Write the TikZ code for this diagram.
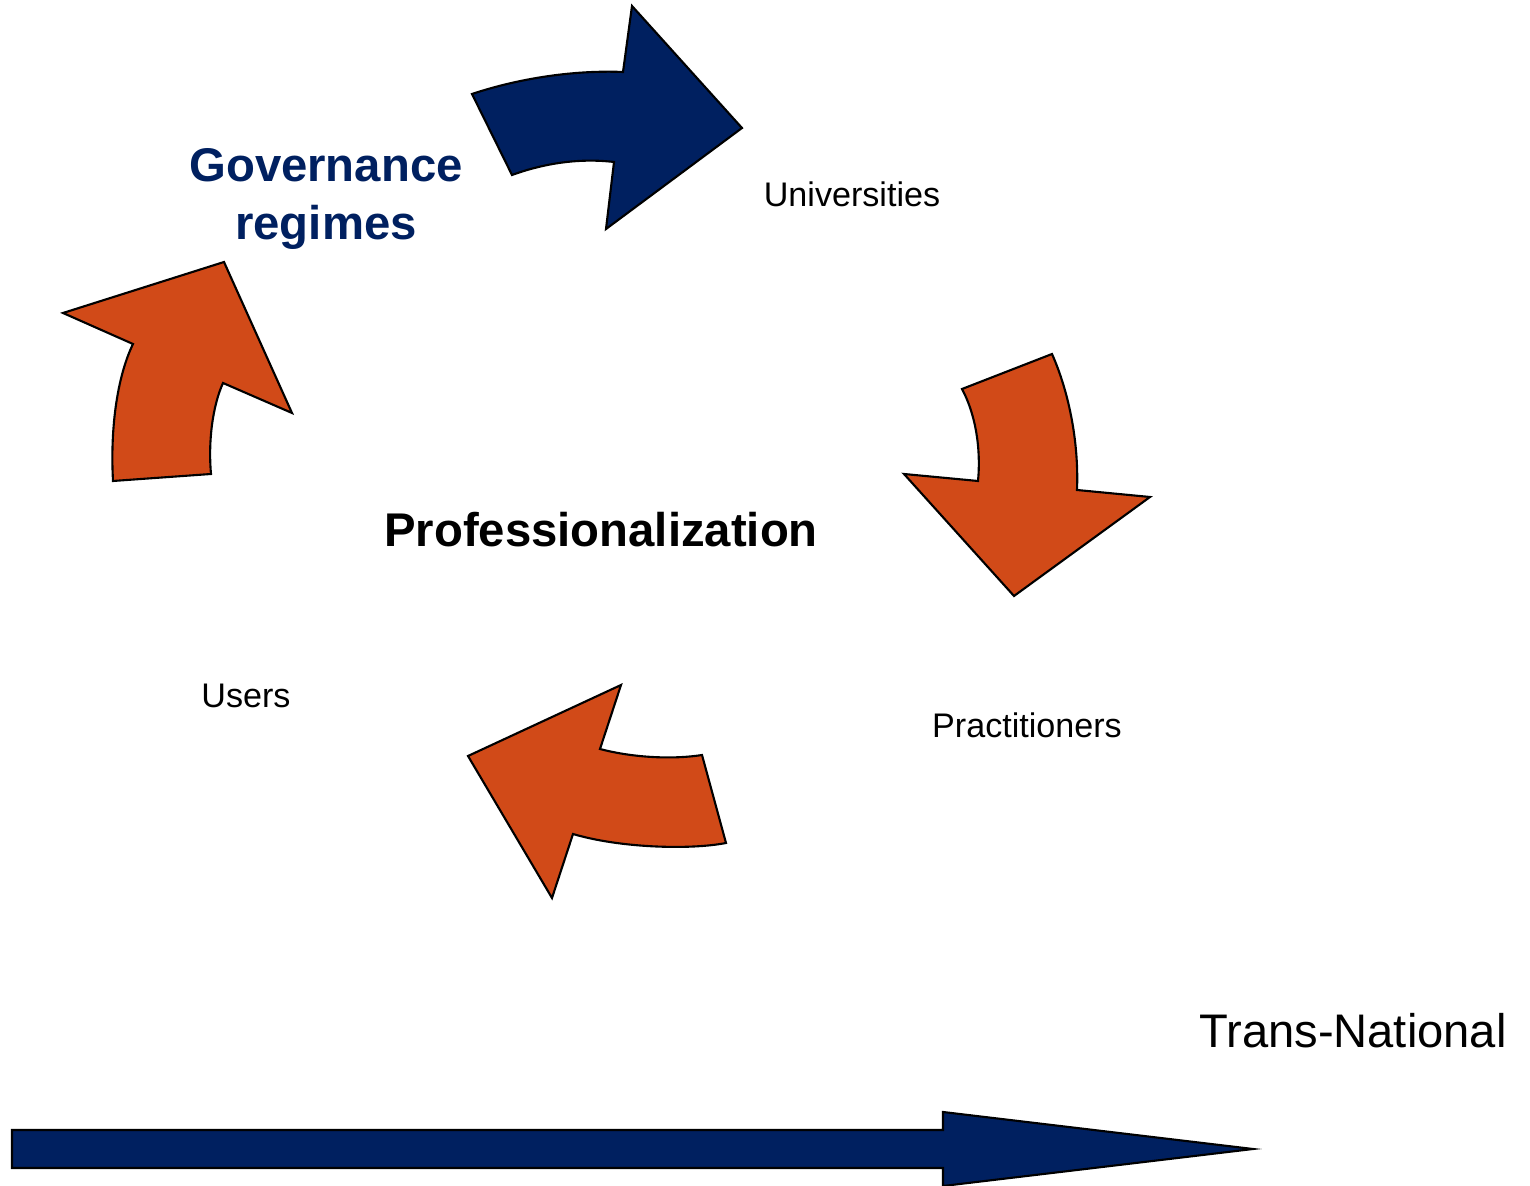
\documentclass[tikz,border=0pt]{standalone}
\usepackage{fontspec}
\setmainfont{Liberation Sans}
\usepackage{xcolor}
\usepackage{tikz}
\usetikzlibrary{positioning}
\definecolor{darkblue}{RGB}{0,32,96}
\definecolor{rust}{RGB}{209,74,24}

\begin{document}
\begin{tikzpicture}[x=0.01cm,y=-0.01cm,semithick,line join=miter]
 	\tikzstyle{every node}=[inner sep=0pt]
 	\tikzstyle{plain label}=[anchor=base, font=\fontsize{9.7}{11.6}\selectfont]
 	\tikzstyle{head label}=[font=\fontsize{13.45}{16.3}\selectfont\bfseries]
 	\tikzstyle{blue block}=[fill=darkblue, draw=black]
 	\tikzstyle{red block}=[fill=rust, draw=black]
 	\useasboundingbox (0,0) rectangle (1530,1186);

 		% curved block arrows round the cycle
 		\filldraw[blue block] (512,175) -- (472,94) .. controls (520,78) and (575,70) .. (623,72)
 			-- (632,6) -- (742,128) -- (606,229) -- (614,162)
 			.. controls (580,158) and (545,163) .. (512,175) -- cycle;
 		\filldraw[red block] (962,389) -- (1052,354) .. controls (1068,390) and (1079,440) .. (1077,490)
 			-- (1150,497) -- (1014,596) -- (904,474) -- (978,481)
 			.. controls (981,450) and (976,415) .. (962,389) -- cycle;
 		\filldraw[red block] (702,755) -- (726,843) .. controls (690,850) and (620,848) .. (573,834)
 			-- (552,898) -- (468,756) -- (621,685) -- (600,749)
 			.. controls (630,757) and (670,760) .. (702,755) -- cycle;
 		\filldraw[red block] (113,481) -- (211,474) .. controls (208,440) and (213,405) .. (223,383)
 			-- (292,413) -- (224,262) -- (63,313) -- (133,344)
 			.. controls (118,375) and (110,425) .. (113,481) -- cycle;

 		% time axis
 		\filldraw[blue block] (12,1130) -- (943,1130) -- (943,1112) -- (1253,1149)
 			-- (943,1186) -- (943,1168) -- (12,1168) -- cycle;

 			\node[head label, text=darkblue, align=center] (G) at (326,199) {Governance\\regimes};
 			\node[head label, anchor=base] (P) at (601,547) {Professionalization};
 			\node[plain label] (U) at (852,207) {Universities};
 			\node[plain label] (R) at (1027,738) {Practitioners};
 			\node[plain label] (S) at (246,708) {Users};
 			\node[anchor=base, font=\fontsize{13.4}{16}\selectfont] (T) at (1353,1048) {Trans-National};
\end{tikzpicture}
\end{document}
